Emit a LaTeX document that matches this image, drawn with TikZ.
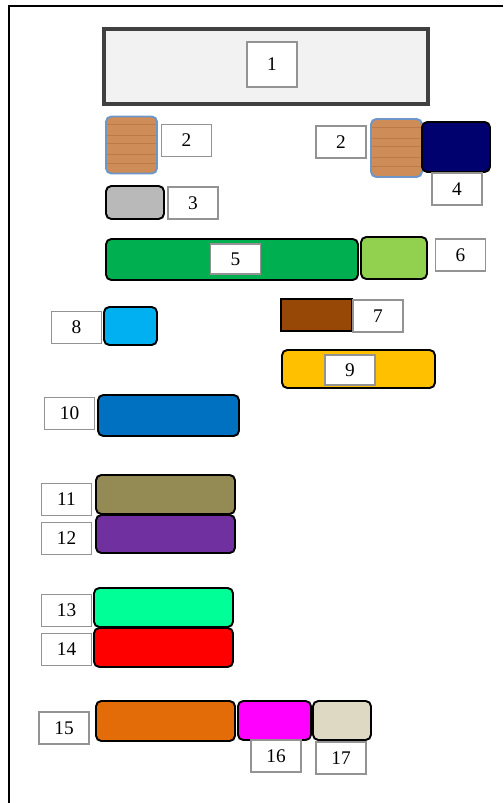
\documentclass[tikz,border=0pt]{standalone}
\usepackage{fontspec}
\setmainfont{Liberation Serif}
\usepackage{xcolor}
\usepackage{tikz}
\usetikzlibrary{positioning}

\definecolor{woodc}{RGB}{206,140,88}
\definecolor{woodln}{RGB}{188,122,72}
\definecolor{woodedge}{RGB}{110,150,200}
\definecolor{navyc}{RGB}{0,0,110}
\definecolor{greenc}{RGB}{0,176,80}
\definecolor{lgreenc}{RGB}{146,208,80}
\definecolor{brownc}{RGB}{152,72,6}
\definecolor{skyc}{RGB}{0,176,240}
\definecolor{goldc}{RGB}{255,192,0}
\definecolor{bluec}{RGB}{0,112,192}
\definecolor{olivec}{RGB}{148,138,84}
\definecolor{purplec}{RGB}{112,48,160}
\definecolor{mintc}{RGB}{0,255,150}
\definecolor{orangec}{RGB}{227,108,9}
\definecolor{magc}{RGB}{255,0,255}
\definecolor{beigec}{RGB}{221,217,195}

\begin{document}
\begin{tikzpicture}[
  x=0.02cm, y=-0.02cm,
  fuse/.style={draw, line width=1.1pt, rounded corners=3pt, inner sep=0pt},
  wood/.style={fuse, draw=woodedge, fill=woodc, minimum width=1.02cm, minimum height=1.14cm,
    path picture={\foreach \k in {0.14,0.33,0.47,0.66,0.81}
      \draw[woodln, line width=0.5pt] ([yshift=-\k*1.16cm]path picture bounding box.north west) -- ([yshift=-\k*1.16cm]path picture bounding box.north east);}},
  lbl/.style={draw=gray!85, line width=0.9pt, fill=white, inner sep=0pt, font=\fontsize{11}{13}\selectfont, minimum width=1.0cm, minimum height=0.64cm}
]
\useasboundingbox (0,0) rectangle (503,803);
% frame
\draw[line width=1.2pt] (503,6) -- (9,6) -- (9,803);

% top block
\node[draw=black!75, line width=1.8pt, fill=gray!10, minimum width=6.48cm, minimum height=1.5cm] (blk) at (266,66.5) {};
\node[lbl, minimum height=0.9cm] (l1) at (272,64.5) {1};

% row 2 / 3 / 4
\node[wood] (wl) at (131.5,145) {};
\node[lbl] (l2a) at (186.5,140.5) {2};
\node[lbl] (l2b) at (341,142) {2};
\node[wood, minimum height=1.16cm] (wr) at (396.5,148) {};
\node[fuse, fill=navyc, minimum width=1.36cm, minimum height=1.0cm] (nv) at (456,147) {};
\node[lbl] (l4) at (457,189) {4};
\node[fuse, fill=gray!55, minimum width=1.16cm, minimum height=0.66cm] (gr) at (135,202.5) {};
\node[lbl] (l3) at (193,203) {3};

% row 5 / 6
\node[fuse, fill=greenc, minimum width=5.04cm, minimum height=0.82cm] (gn) at (232,259.5) {};
\node[lbl, minimum height=0.6cm] (l5) at (235.5,259) {5};
\node[fuse, fill=lgreenc, minimum width=1.32cm, minimum height=0.84cm] (lg) at (394,258) {};
\node[lbl] (l6) at (460.5,255) {6};

% row 7 / 8 / 9
\node[draw, line width=1.4pt, fill=brownc, minimum width=1.42cm, minimum height=0.64cm] (br) at (316.5,315) {};
\node[lbl] (l7) at (378,316) {7};
\node[lbl] (l8) at (76.5,327.5) {8};
\node[fuse, fill=skyc, minimum width=1.06cm, minimum height=0.76cm] (sk) at (130.5,326) {};
\node[fuse, fill=goldc, minimum width=3.06cm, minimum height=0.76cm] (gd) at (358.5,369) {};
\node[lbl, minimum height=0.6cm] (l9) at (350,370) {9};

% row 10
\node[lbl] (l10) at (69.5,413.5) {10};
\node[fuse, fill=bluec, minimum width=2.82cm, minimum height=0.82cm] (bl) at (168.5,415.5) {};

% rows 11 / 12
\node[lbl] (l11) at (66.5,499.5) {11};
\node[fuse, fill=olivec, minimum width=2.78cm, minimum height=0.78cm] (ol) at (165.5,494.5) {};
\node[lbl] (l12) at (66.5,538.5) {12};
\node[fuse, fill=purplec, minimum width=2.78cm, minimum height=0.76cm] (pu) at (165.5,534) {};

% rows 13 / 14
\node[lbl] (l13) at (66.5,610.5) {13};
\node[fuse, fill=mintc, minimum width=2.78cm, minimum height=0.78cm] (mn) at (163.5,607.5) {};
\node[lbl] (l14) at (66.5,649.5) {14};
\node[fuse, fill=red, minimum width=2.78cm, minimum height=0.78cm] (rd) at (163.5,647.5) {};

% row 15 / 16 / 17
\node[lbl] (l15) at (64,728) {15};
\node[fuse, fill=orangec, minimum width=2.78cm, minimum height=0.8cm] (or) at (165.5,721) {};
\node[fuse, fill=magc, minimum width=1.46cm, minimum height=0.78cm] (mg) at (274.5,720.5) {};
\node[fuse, fill=beigec, minimum width=1.16cm, minimum height=0.78cm] (bg) at (342,720.5) {};
\node[lbl] (l16) at (276,756) {16};
\node[lbl] (l17) at (341,758) {17};
\end{tikzpicture}
\end{document}
